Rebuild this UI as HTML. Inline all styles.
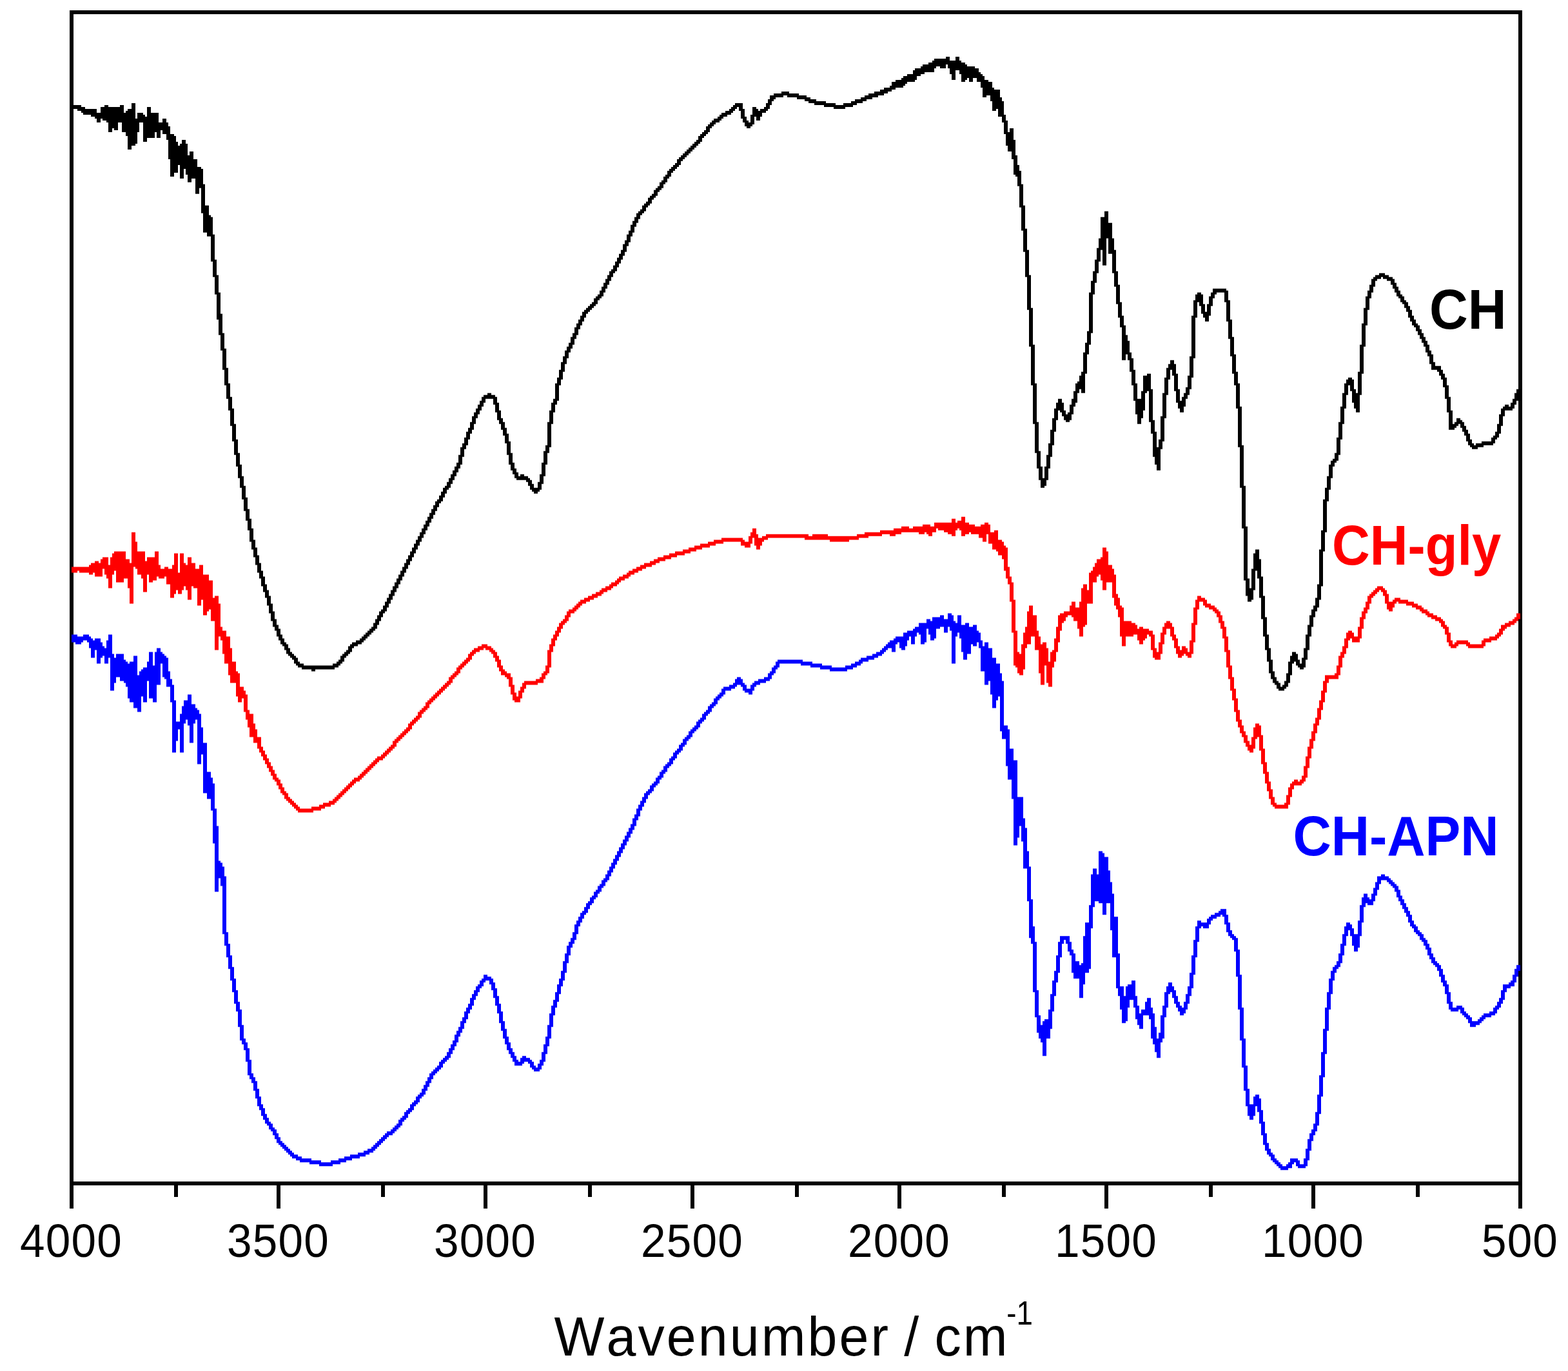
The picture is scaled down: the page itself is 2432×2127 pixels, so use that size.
<!DOCTYPE html>
<html lang="en"><head><meta charset="utf-8"><title>FTIR spectra</title>
<style>
html,body{margin:0;padding:0;background:#fff}
body{width:2432px;height:2127px;overflow:hidden}
svg{display:block}
text{font-family:"Liberation Sans",sans-serif}
.tk{font-size:73px;text-anchor:middle;fill:#000;letter-spacing:1.2px;font-kerning:none}
.ti{font-size:86px;fill:#000;letter-spacing:3.2px;word-spacing:-5px;font-kerning:none}
.lb{font-size:87px;font-weight:bold}
</style></head>
<body>
<svg width="2432" height="2127" viewBox="0 0 2432 2127">
<rect width="2432" height="2127" fill="#fff"/>
<g fill="#000" shape-rendering="crispEdges">
<rect x="108" y="16" width="2253" height="6"/>
<rect x="108" y="1833" width="2253" height="6"/>
<rect x="108" y="16" width="6" height="1823"/>
<rect x="2355" y="16" width="6" height="1823"/>
<rect x="108" y="1839" width="6" height="36"/>
<rect x="270" y="1839" width="6" height="18"/>
<rect x="429" y="1839" width="6" height="36"/>
<rect x="591" y="1839" width="6" height="18"/>
<rect x="750" y="1839" width="6" height="36"/>
<rect x="912" y="1839" width="6" height="18"/>
<rect x="1071" y="1839" width="6" height="36"/>
<rect x="1233" y="1839" width="6" height="18"/>
<rect x="1392" y="1839" width="6" height="36"/>
<rect x="1554" y="1839" width="6" height="18"/>
<rect x="1713" y="1839" width="6" height="36"/>
<rect x="1875" y="1839" width="6" height="18"/>
<rect x="2034" y="1839" width="6" height="36"/>
<rect x="2196" y="1839" width="6" height="18"/>
<rect x="2355" y="1839" width="6" height="36"/>
</g>
<path id="black" fill="#000000" transform="translate(0,1) scale(1,0.99955)" d="M111 162h3v9h-3zM114 162h6v6h-6zM120 162h6v9h-6zM126 165h3v9h-3zM129 165h3v12h-3zM132 168h9v9h-9zM141 168h6v12h-6zM147 168h3v15h-3zM150 174h6v15h-6zM156 165h3v18h-3zM159 165h3v21h-3zM162 162h3v24h-3zM165 162h3v27h-3zM168 165h6v39h-6zM174 165h3v33h-3zM177 165h6v36h-6zM183 165h3v24h-3zM186 162h3v27h-3zM189 162h3v42h-3zM192 174h3v30h-3zM195 171h3v39h-3zM198 168h6v63h-6zM204 159h6v66h-6zM210 183h3v39h-3zM213 174h3v30h-3zM216 174h6v15h-6zM222 177h3v42h-3zM225 180h3v39h-3zM228 165h6v48h-6zM234 174h6v39h-6zM240 174h3v30h-3zM243 174h3v39h-3zM246 189h3v24h-3zM249 189h3v12h-3zM252 183h6v24h-6zM258 189h3v27h-3zM261 195h3v51h-3zM264 207h6v66h-6zM270 210h3v57h-3zM273 219h3v48h-3zM276 225h3v30h-3zM279 222h3v54h-3zM282 216h3v60h-3zM285 216h3v45h-3zM288 222h3v48h-3zM291 240h3v42h-3zM294 234h3v48h-3zM297 234h3v42h-3zM300 246h3v30h-3zM303 246h3v54h-3zM306 258h3v42h-3zM309 258h3v33h-3zM312 261h3v69h-3zM315 285h3v75h-3zM318 318h3v42h-3zM321 318h3v48h-3zM324 333h3v33h-3zM327 336h3v69h-3zM330 363h3v66h-3zM333 402h3v54h-3zM336 426h3v69h-3zM339 453h3v66h-3zM342 486h3v57h-3zM345 516h3v57h-3zM348 540h3v57h-3zM351 570h3v48h-3zM354 594h3v42h-3zM357 615h3v45h-3zM360 633h3v51h-3zM363 657h3v48h-3zM366 681h3v42h-3zM369 702h3v39h-3zM372 720h3v36h-3zM375 738h3v36h-3zM378 753h3v39h-3zM381 771h3v36h-3zM384 789h3v33h-3zM387 804h3v36h-3zM390 819h3v33h-3zM393 837h3v27h-3zM396 849h3v27h-3zM399 861h3v27h-3zM402 873h3v24h-3zM405 885h3v24h-3zM408 894h3v24h-3zM411 906h3v21h-3zM414 915h3v24h-3zM417 924h3v27h-3zM420 936h3v27h-3zM423 948h3v24h-3zM426 960h3v18h-3zM429 969h3v18h-3zM432 975h3v18h-3zM435 984h3v15h-3zM438 990h3v12h-3zM441 996h3v12h-3zM444 999h3v15h-3zM447 1005h3v12h-3zM450 1011h3v9h-3zM453 1014h3v9h-3zM456 1017h3v12h-3zM459 1020h3v12h-3zM462 1026h3v9h-3zM465 1029h3v6h-3zM468 1029h3v9h-3zM471 1032h12v6h-12zM483 1032h6v9h-6zM489 1032h27v6h-27zM516 1029h3v9h-3zM519 1029h3v6h-3zM522 1026h3v9h-3zM525 1023h3v9h-3zM528 1017h3v12h-3zM531 1014h3v12h-3zM534 1011h3v9h-3zM537 1008h3v9h-3zM540 1002h3v12h-3zM543 999h3v12h-3zM546 996h3v9h-3zM549 996h3v6h-3zM552 993h3v9h-3zM555 993h3v6h-3zM558 990h3v9h-3zM561 987h3v9h-3zM564 984h3v9h-3zM567 981h3v9h-3zM570 978h3v9h-3zM573 975h3v9h-3zM576 972h3v9h-3zM579 966h3v12h-3zM582 960h3v15h-3zM585 954h3v15h-3zM588 948h3v15h-3zM591 945h3v12h-3zM594 939h3v12h-3zM597 933h3v15h-3zM600 927h3v15h-3zM603 921h3v15h-3zM606 915h3v15h-3zM609 909h3v15h-3zM612 903h3v15h-3zM615 897h3v15h-3zM618 891h3v15h-3zM621 885h3v15h-3zM624 879h3v15h-3zM627 873h3v15h-3zM630 867h3v15h-3zM633 861h3v15h-3zM636 855h3v15h-3zM639 849h3v15h-3zM642 843h3v15h-3zM645 837h3v15h-3zM648 831h3v15h-3zM651 825h3v15h-3zM654 819h3v15h-3zM657 813h3v15h-3zM660 807h3v15h-3zM663 801h3v15h-3zM666 795h3v15h-3zM669 789h3v15h-3zM672 783h3v15h-3zM675 777h3v15h-3zM678 774h3v12h-3zM681 768h3v12h-3zM684 762h3v15h-3zM687 756h3v15h-3zM690 753h3v12h-3zM693 747h3v12h-3zM696 741h3v15h-3zM699 735h3v15h-3zM702 729h3v15h-3zM705 723h3v15h-3zM708 717h3v15h-3zM711 705h3v21h-3zM714 693h3v27h-3zM717 687h3v21h-3zM720 678h3v18h-3zM723 669h3v21h-3zM726 663h3v18h-3zM729 654h3v18h-3zM732 645h3v21h-3zM735 639h3v18h-3zM738 633h3v15h-3zM741 627h3v15h-3zM744 621h3v15h-3zM747 615h3v15h-3zM750 612h3v12h-3zM753 612h3v6h-3zM756 609h6v9h-6zM762 612h3v6h-3zM765 612h3v15h-3zM768 615h3v24h-3zM771 624h3v27h-3zM774 636h3v21h-3zM777 648h3v18h-3zM780 654h3v21h-3zM783 663h3v24h-3zM786 672h3v33h-3zM789 684h3v36h-3zM792 702h3v27h-3zM795 717h3v18h-3zM798 726h3v15h-3zM801 732h3v12h-3zM804 738h3v6h-3zM807 735h6v9h-6zM813 738h3v6h-3zM816 738h3v9h-3zM819 741h3v12h-3zM822 744h3v15h-3zM825 750h3v12h-3zM828 756h6v9h-6zM834 747h3v15h-3zM837 735h3v24h-3zM840 717h3v33h-3zM843 699h3v39h-3zM846 690h3v30h-3zM849 654h3v48h-3zM852 636h3v57h-3zM855 624h3v33h-3zM858 618h3v21h-3zM861 594h3v33h-3zM864 585h3v36h-3zM867 573h3v24h-3zM870 561h3v27h-3zM873 552h3v24h-3zM876 543h3v21h-3zM879 537h3v18h-3zM882 531h3v15h-3zM885 522h3v18h-3zM888 516h3v18h-3zM891 507h3v18h-3zM894 501h3v18h-3zM897 495h3v15h-3zM900 489h3v15h-3zM903 483h3v15h-3zM906 480h3v12h-3zM909 477h3v9h-3zM912 474h3v9h-3zM915 471h3v9h-3zM918 468h3v9h-3zM921 462h3v12h-3zM924 459h3v12h-3zM927 456h3v9h-3zM930 450h3v12h-3zM933 444h3v15h-3zM936 438h3v15h-3zM939 432h3v15h-3zM942 426h3v15h-3zM945 420h3v15h-3zM948 417h3v12h-3zM951 411h3v12h-3zM954 405h3v15h-3zM957 399h3v15h-3zM960 393h3v15h-3zM963 387h3v15h-3zM966 378h3v18h-3zM969 372h3v18h-3zM972 363h3v18h-3zM975 357h3v18h-3zM978 348h3v18h-3zM981 342h3v18h-3zM984 336h3v15h-3zM987 330h3v15h-3zM990 327h3v12h-3zM993 324h3v9h-3zM996 318h3v12h-3zM999 315h3v12h-3zM1002 312h3v9h-3zM1005 306h3v12h-3zM1008 303h3v12h-3zM1011 300h3v9h-3zM1014 294h3v12h-3zM1017 291h3v12h-3zM1020 288h3v9h-3zM1023 282h3v12h-3zM1026 279h3v12h-3zM1029 273h3v12h-3zM1032 270h3v12h-3zM1035 264h3v12h-3zM1038 261h3v12h-3zM1041 258h3v9h-3zM1044 255h3v9h-3zM1047 252h3v9h-3zM1050 246h3v12h-3zM1053 243h3v12h-3zM1056 240h3v9h-3zM1059 237h3v9h-3zM1062 234h3v9h-3zM1065 231h3v9h-3zM1068 228h3v9h-3zM1071 225h3v9h-3zM1074 222h3v9h-3zM1077 219h3v9h-3zM1080 216h3v9h-3zM1083 210h3v12h-3zM1086 207h3v12h-3zM1089 204h3v9h-3zM1092 201h3v9h-3zM1095 195h3v12h-3zM1098 192h3v12h-3zM1101 189h3v9h-3zM1104 186h3v9h-3zM1107 183h3v9h-3zM1110 183h3v6h-3zM1113 180h3v9h-3zM1116 177h3v9h-3zM1119 174h3v9h-3zM1122 174h3v6h-3zM1125 171h3v9h-3zM1128 171h3v6h-3zM1131 168h3v9h-3zM1134 165h3v9h-3zM1137 162h3v9h-3zM1140 159h3v9h-3zM1143 159h3v6h-3zM1146 159h3v12h-3zM1149 159h3v24h-3zM1152 168h3v21h-3zM1155 180h3v15h-3zM1158 186h3v12h-3zM1161 189h3v9h-3zM1164 177h3v18h-3zM1167 165h3v27h-3zM1170 165h3v15h-3zM1173 168h3v18h-3zM1176 171h3v15h-3zM1179 168h3v12h-3zM1182 168h3v6h-3zM1185 165h3v9h-3zM1188 159h3v12h-3zM1191 153h3v15h-3zM1194 147h3v15h-3zM1197 147h3v9h-3zM1200 144h3v9h-3zM1203 144h9v6h-9zM1212 141h3v9h-3zM1215 141h6v6h-6zM1221 141h3v9h-3zM1224 144h12v6h-12zM1236 144h3v9h-3zM1239 147h9v6h-9zM1248 147h3v9h-3zM1251 150h3v6h-3zM1254 150h3v9h-3zM1257 153h6v6h-6zM1263 153h3v9h-3zM1266 156h12v6h-12zM1278 156h3v9h-3zM1281 159h12v6h-12zM1293 159h3v9h-3zM1296 162h12v6h-12zM1308 159h3v9h-3zM1311 159h9v6h-9zM1320 156h3v9h-3zM1323 156h3v6h-3zM1326 153h3v9h-3zM1329 153h6v6h-6zM1335 150h3v9h-3zM1338 150h3v6h-3zM1341 147h3v9h-3zM1344 147h3v6h-3zM1347 144h6v9h-6zM1353 144h3v6h-3zM1356 141h6v9h-6zM1362 141h3v6h-3zM1365 138h6v9h-6zM1371 135h6v9h-6zM1377 135h3v6h-3zM1380 132h3v9h-3zM1383 126h6v12h-6zM1389 123h9v12h-9zM1398 120h3v15h-3zM1401 117h3v15h-3zM1404 117h3v12h-3zM1407 114h9v12h-9zM1416 108h3v18h-3zM1419 105h3v18h-3zM1422 105h6v12h-6zM1428 102h3v12h-3zM1431 99h3v15h-3zM1434 99h6v12h-6zM1440 96h6v15h-6zM1446 93h3v18h-3zM1449 90h3v15h-3zM1452 90h6v12h-6zM1458 90h9v15h-9zM1467 87h3v12h-3zM1470 87h3v18h-3zM1473 93h3v21h-3zM1476 93h6v30h-6zM1482 87h6v21h-6zM1488 93h3v21h-3zM1491 96h6v30h-6zM1497 99h3v24h-3zM1500 102h3v18h-3zM1503 102h6v24h-6zM1509 102h3v18h-3zM1512 105h3v15h-3zM1515 105h3v21h-3zM1518 111h3v15h-3zM1521 114h3v21h-3zM1524 117h3v33h-3zM1527 123h3v27h-3zM1530 123h3v24h-3zM1533 126h3v21h-3zM1536 126h3v30h-3zM1539 135h3v36h-3zM1542 138h3v33h-3zM1545 138h3v30h-3zM1548 138h3v42h-3zM1551 150h3v30h-3zM1554 156h3v33h-3zM1557 177h3v30h-3zM1560 186h3v39h-3zM1563 204h3v30h-3zM1566 198h3v36h-3zM1569 198h3v48h-3zM1572 216h3v54h-3zM1575 240h3v33h-3zM1578 255h3v33h-3zM1581 264h3v57h-3zM1584 285h3v72h-3zM1587 318h3v72h-3zM1590 354h3v75h-3zM1593 387h3v93h-3zM1596 426h3v111h-3zM1599 477h3v120h-3zM1602 534h3v123h-3zM1605 594h3v108h-3zM1608 654h3v72h-3zM1611 699h3v45h-3zM1614 723h3v33h-3zM1617 741h3v15h-3zM1620 723h3v30h-3zM1623 705h3v39h-3zM1626 687h3v39h-3zM1629 666h3v42h-3zM1632 648h3v42h-3zM1635 633h3v36h-3zM1638 624h3v27h-3zM1641 618h3v18h-3zM1644 618h3v21h-3zM1647 624h3v21h-3zM1650 636h3v15h-3zM1653 642h3v12h-3zM1656 639h3v15h-3zM1659 627h3v24h-3zM1662 618h3v24h-3zM1665 606h3v24h-3zM1668 594h3v30h-3zM1671 591h3v18h-3zM1674 582h3v21h-3zM1677 576h3v33h-3zM1680 546h3v63h-3zM1683 531h3v48h-3zM1686 513h3v36h-3zM1689 453h3v81h-3zM1692 435h3v81h-3zM1695 420h3v36h-3zM1698 402h3v36h-3zM1701 384h3v39h-3zM1704 369h3v36h-3zM1707 336h3v51h-3zM1710 336h3v75h-3zM1713 327h3v84h-3zM1716 327h3v42h-3zM1719 345h6v48h-6zM1725 369h3v54h-3zM1728 387h3v57h-3zM1731 420h3v51h-3zM1734 441h3v51h-3zM1737 468h3v39h-3zM1740 489h3v69h-3zM1743 504h3v54h-3zM1746 519h3v30h-3zM1749 528h3v30h-3zM1752 546h3v30h-3zM1755 555h3v42h-3zM1758 573h3v48h-3zM1761 594h3v48h-3zM1764 618h6v39h-6zM1770 606h3v42h-3zM1773 582h3v54h-3zM1776 582h3v27h-3zM1779 579h3v27h-3zM1782 579h3v75h-3zM1785 603h3v69h-3zM1788 651h3v57h-3zM1791 669h3v51h-3zM1794 693h3v36h-3zM1797 681h3v48h-3zM1800 645h3v51h-3zM1803 609h3v75h-3zM1806 585h3v63h-3zM1809 570h3v42h-3zM1812 564h3v24h-3zM1815 558h3v15h-3zM1818 558h3v24h-3zM1821 564h3v42h-3zM1824 579h3v45h-3zM1827 603h3v30h-3zM1830 621h3v18h-3zM1833 615h3v24h-3zM1836 609h3v21h-3zM1839 600h3v18h-3zM1842 582h3v30h-3zM1845 552h3v51h-3zM1848 489h3v96h-3zM1851 465h3v90h-3zM1854 456h3v36h-3zM1857 453h3v15h-3zM1860 453h3v21h-3zM1863 456h3v30h-3zM1866 471h3v21h-3zM1869 483h3v15h-3zM1872 471h3v27h-3zM1875 459h3v30h-3zM1878 453h3v21h-3zM1881 447h3v15h-3zM1884 447h3v9h-3zM1887 447h12v6h-12zM1899 447h3v21h-3zM1902 450h3v48h-3zM1905 465h3v60h-3zM1908 495h3v57h-3zM1911 522h3v57h-3zM1914 549h3v48h-3zM1917 576h3v57h-3zM1920 594h3v99h-3zM1923 630h3v126h-3zM1926 690h3v129h-3zM1929 753h3v147h-3zM1932 816h3v108h-3zM1935 897h3v36h-3zM1938 912h3v21h-3zM1941 882h3v48h-3zM1944 858h3v57h-3zM1947 852h3v33h-3zM1950 852h3v45h-3zM1953 867h3v60h-3zM1956 894h3v66h-3zM1959 924h3v63h-3zM1962 957h3v51h-3zM1965 984h3v42h-3zM1968 1005h3v39h-3zM1971 1023h3v30h-3zM1974 1041h3v18h-3zM1977 1050h3v12h-3zM1980 1056h3v12h-3zM1983 1059h3v12h-3zM1986 1065h3v6h-3zM1989 1062h3v9h-3zM1992 1056h3v12h-3zM1995 1044h3v21h-3zM1998 1026h3v33h-3zM2001 1017h3v30h-3zM2004 1011h3v18h-3zM2007 1011h3v15h-3zM2010 1014h3v18h-3zM2013 1023h3v12h-3zM2016 1029h3v9h-3zM2019 1020h3v18h-3zM2022 1005h3v30h-3zM2025 984h3v39h-3zM2028 969h3v39h-3zM2031 954h3v33h-3zM2034 945h3v27h-3zM2037 939h3v18h-3zM2040 927h3v21h-3zM2043 906h3v36h-3zM2046 852h3v78h-3zM2049 822h3v87h-3zM2052 774h3v81h-3zM2055 756h3v69h-3zM2058 738h3v39h-3zM2061 720h3v39h-3zM2064 714h3v27h-3zM2067 711h3v12h-3zM2070 702h3v15h-3zM2073 678h3v36h-3zM2076 654h3v51h-3zM2079 630h3v51h-3zM2082 609h3v48h-3zM2085 594h3v39h-3zM2088 588h3v24h-3zM2091 585h3v12h-3zM2094 585h3v21h-3zM2097 588h3v36h-3zM2100 603h3v30h-3zM2103 609h3v30h-3zM2106 576h3v63h-3zM2109 534h3v78h-3zM2112 501h3v78h-3zM2115 477h3v60h-3zM2118 459h3v45h-3zM2121 450h3v30h-3zM2124 441h3v21h-3zM2127 432h3v21h-3zM2130 429h3v15h-3zM2133 426h3v9h-3zM2136 426h3v6h-3zM2139 423h3v9h-3zM2142 423h3v6h-3zM2145 423h3v9h-3zM2148 426h3v6h-3zM2151 426h3v9h-3zM2154 429h3v6h-3zM2157 429h3v12h-3zM2160 432h3v15h-3zM2163 438h3v15h-3zM2166 444h3v15h-3zM2169 450h3v12h-3zM2172 456h3v12h-3zM2175 459h3v12h-3zM2178 465h3v12h-3zM2181 468h3v15h-3zM2184 474h3v18h-3zM2187 480h3v18h-3zM2190 489h3v15h-3zM2193 495h3v12h-3zM2196 501h3v12h-3zM2199 504h3v15h-3zM2202 510h3v15h-3zM2205 516h3v15h-3zM2208 522h3v15h-3zM2211 528h3v18h-3zM2214 534h3v18h-3zM2217 543h3v21h-3zM2220 549h3v24h-3zM2223 561h3v12h-3zM2226 567h3v6h-3zM2229 567h3v9h-3zM2232 567h3v15h-3zM2235 573h3v15h-3zM2238 579h3v21h-3zM2241 585h3v33h-3zM2244 597h3v42h-3zM2247 615h3v51h-3zM2250 636h3v30h-3zM2253 657h3v9h-3zM2256 654h3v9h-3zM2259 648h3v12h-3zM2262 648h3v9h-3zM2265 651h3v12h-3zM2268 654h3v15h-3zM2271 660h3v15h-3zM2274 666h3v18h-3zM2277 672h3v18h-3zM2280 681h3v12h-3zM2283 687h3v9h-3zM2286 690h3v6h-3zM2289 687h3v9h-3zM2292 687h6v6h-6zM2298 684h3v9h-3zM2301 684h12v6h-12zM2313 678h3v12h-3zM2316 675h3v12h-3zM2319 669h3v12h-3zM2322 657h3v21h-3zM2325 642h3v30h-3zM2328 633h3v27h-3zM2331 630h3v15h-3zM2334 627h6v9h-6zM2340 630h3v6h-3zM2343 624h3v12h-3zM2346 618h3v15h-3zM2349 609h3v18h-3zM2352 603h3v18h-3zM2355 603h3v9h-3z"/>
<path id="red" fill="#ff0000" transform="translate(0,1) scale(1,0.99955)" d="M111 879h9v9h-9zM120 879h3v6h-3zM123 879h15v9h-15zM138 876h3v15h-3zM141 873h3v18h-3zM144 873h3v15h-3zM147 870h6v24h-6zM153 873h3v21h-3zM156 867h3v27h-3zM159 864h3v18h-3zM162 864h3v27h-3zM165 864h3v33h-3zM168 876h3v36h-3zM171 864h3v48h-3zM174 858h3v33h-3zM177 855h3v30h-3zM180 855h12v48h-12zM192 855h3v42h-3zM195 867h3v30h-3zM198 867h3v45h-3zM201 873h3v63h-3zM204 825h3v111h-3zM207 825h3v54h-3zM210 840h3v42h-3zM213 855h6v36h-6zM219 855h3v42h-3zM222 855h3v63h-3zM225 870h3v48h-3zM228 864h3v27h-3zM231 864h6v39h-6zM237 864h3v36h-3zM240 855h3v45h-3zM243 855h3v39h-3zM246 876h3v21h-3zM249 882h6v15h-6zM255 879h3v15h-3zM258 879h3v27h-3zM261 882h3v24h-3zM264 882h3v45h-3zM267 876h3v51h-3zM270 858h3v63h-3zM273 858h3v57h-3zM276 888h3v33h-3zM279 858h3v63h-3zM282 858h3v57h-3zM285 873h3v36h-3zM288 876h3v39h-3zM291 864h6v66h-6zM297 873h3v36h-3zM300 873h3v39h-3zM303 882h3v30h-3zM306 882h3v57h-3zM309 876h3v63h-3zM312 876h3v54h-3zM315 891h6v63h-6zM321 891h3v57h-3zM324 900h3v45h-3zM327 900h3v63h-3zM330 927h3v36h-3zM333 924h6v84h-6zM339 936h3v51h-3zM342 972h3v21h-3zM345 978h3v36h-3zM348 978h3v51h-3zM351 987h3v42h-3zM354 987h3v60h-3zM357 1005h3v54h-3zM360 1026h6v33h-6zM366 1041h3v39h-3zM369 1044h3v45h-3zM372 1065h3v24h-3zM375 1065h3v18h-3zM378 1071h3v33h-3zM381 1077h3v39h-3zM384 1101h3v27h-3zM387 1107h6v36h-6zM393 1122h3v30h-3zM396 1131h3v21h-3zM399 1143h3v18h-3zM402 1143h3v24h-3zM405 1158h3v15h-3zM408 1164h3v15h-3zM411 1170h3v15h-3zM414 1176h3v15h-3zM417 1182h3v15h-3zM420 1188h3v15h-3zM423 1194h3v15h-3zM426 1200h3v12h-3zM429 1206h3v12h-3zM432 1209h3v15h-3zM435 1215h3v15h-3zM438 1221h3v12h-3zM441 1227h3v12h-3zM444 1230h3v12h-3zM447 1236h3v9h-3zM450 1239h3v9h-3zM453 1242h3v9h-3zM456 1245h3v9h-3zM459 1248h3v9h-3zM462 1251h3v9h-3zM465 1254h18v6h-18zM483 1251h3v9h-3zM486 1251h9v6h-9zM495 1248h3v9h-3zM498 1248h3v6h-3zM501 1245h3v9h-3zM504 1245h6v6h-6zM510 1242h3v9h-3zM513 1242h3v6h-3zM516 1239h3v9h-3zM519 1236h3v9h-3zM522 1233h3v9h-3zM525 1230h3v9h-3zM528 1227h3v9h-3zM531 1224h3v9h-3zM534 1221h3v9h-3zM537 1218h3v9h-3zM540 1215h3v9h-3zM543 1212h3v9h-3zM546 1209h3v9h-3zM549 1206h3v9h-3zM552 1206h3v6h-3zM555 1203h3v9h-3zM558 1200h3v9h-3zM561 1197h3v9h-3zM564 1194h3v9h-3zM567 1191h3v9h-3zM570 1188h3v9h-3zM573 1185h3v9h-3zM576 1182h3v9h-3zM579 1179h3v9h-3zM582 1176h3v9h-3zM585 1173h3v9h-3zM588 1173h3v6h-3zM591 1170h3v9h-3zM594 1167h3v9h-3zM597 1164h3v9h-3zM600 1161h3v9h-3zM603 1158h3v9h-3zM606 1155h3v9h-3zM609 1149h3v12h-3zM612 1146h3v12h-3zM615 1143h3v9h-3zM618 1140h3v9h-3zM621 1137h3v9h-3zM624 1134h3v9h-3zM627 1131h3v9h-3zM630 1128h3v9h-3zM633 1122h3v12h-3zM636 1119h3v12h-3zM639 1116h3v9h-3zM642 1113h3v9h-3zM645 1110h3v9h-3zM648 1104h3v12h-3zM651 1101h3v12h-3zM654 1098h3v9h-3zM657 1095h3v9h-3zM660 1089h3v12h-3zM663 1086h3v12h-3zM666 1083h3v9h-3zM669 1080h3v9h-3zM672 1077h3v9h-3zM675 1074h3v9h-3zM678 1071h3v9h-3zM681 1068h3v9h-3zM684 1065h3v9h-3zM687 1062h3v9h-3zM690 1059h3v9h-3zM693 1056h3v9h-3zM696 1050h3v12h-3zM699 1047h3v12h-3zM702 1044h3v9h-3zM705 1041h3v9h-3zM708 1035h3v12h-3zM711 1032h3v12h-3zM714 1029h3v9h-3zM717 1026h3v9h-3zM720 1023h3v9h-3zM723 1020h3v9h-3zM726 1014h3v12h-3zM729 1011h3v12h-3zM732 1008h3v9h-3zM735 1005h3v9h-3zM738 1005h3v6h-3zM741 1002h3v9h-3zM744 1002h3v6h-3zM747 999h3v9h-3zM750 999h3v6h-3zM753 999h3v9h-3zM756 1002h3v6h-3zM759 1002h3v9h-3zM762 1005h3v9h-3zM765 1008h3v12h-3zM768 1011h3v15h-3zM771 1017h3v18h-3zM774 1023h3v18h-3zM777 1032h3v15h-3zM780 1038h3v9h-3zM783 1041h3v9h-3zM786 1044h3v9h-3zM789 1044h3v21h-3zM792 1050h3v27h-3zM795 1062h3v24h-3zM798 1074h3v15h-3zM801 1080h3v9h-3zM804 1071h3v18h-3zM807 1065h3v18h-3zM810 1059h3v15h-3zM813 1056h3v12h-3zM816 1056h15v6h-15zM831 1053h3v9h-3zM834 1053h3v6h-3zM837 1050h3v9h-3zM840 1044h3v15h-3zM843 1041h3v12h-3zM846 1032h3v15h-3zM849 1008h3v36h-3zM852 999h3v36h-3zM855 990h3v21h-3zM858 984h3v18h-3zM861 978h3v15h-3zM864 972h3v15h-3zM867 966h3v15h-3zM870 963h3v12h-3zM873 960h3v9h-3zM876 954h3v12h-3zM879 948h3v15h-3zM882 945h3v12h-3zM885 945h3v6h-3zM888 942h3v9h-3zM891 939h3v9h-3zM894 936h3v9h-3zM897 933h3v9h-3zM900 930h3v9h-3zM903 930h3v6h-3zM906 927h3v9h-3zM909 927h3v6h-3zM912 924h3v9h-3zM915 924h3v6h-3zM918 921h3v9h-3zM921 921h3v6h-3zM924 918h3v9h-3zM927 918h3v6h-3zM930 915h3v9h-3zM933 912h3v9h-3zM936 912h3v6h-3zM939 909h3v9h-3zM942 909h3v6h-3zM945 906h3v9h-3zM948 903h3v9h-3zM951 903h3v6h-3zM954 900h3v9h-3zM957 897h3v9h-3zM960 894h3v9h-3zM963 894h3v6h-3zM966 891h3v9h-3zM969 891h3v6h-3zM972 888h3v9h-3zM975 885h3v9h-3zM978 885h3v6h-3zM981 882h3v9h-3zM984 882h3v6h-3zM987 879h3v9h-3zM990 879h3v6h-3zM993 876h3v9h-3zM996 876h3v6h-3zM999 873h3v9h-3zM1002 873h6v6h-6zM1008 870h3v9h-3zM1011 870h3v6h-3zM1014 867h3v9h-3zM1017 867h3v6h-3zM1020 864h3v9h-3zM1023 864h6v6h-6zM1029 861h3v9h-3zM1032 861h6v6h-6zM1038 858h3v9h-3zM1041 858h6v6h-6zM1047 855h3v9h-3zM1050 855h9v6h-9zM1059 852h3v9h-3zM1062 852h6v6h-6zM1068 849h3v9h-3zM1071 849h6v6h-6zM1077 846h3v9h-3zM1080 846h6v6h-6zM1086 843h3v9h-3zM1089 843h9v6h-9zM1098 840h3v9h-3zM1101 840h6v6h-6zM1107 837h3v9h-3zM1110 837h9v6h-9zM1119 834h3v9h-3zM1122 834h27v6h-27zM1149 834h3v12h-3zM1152 837h3v9h-3zM1155 840h6v9h-6zM1161 831h3v18h-3zM1164 825h3v18h-3zM1167 819h3v15h-3zM1170 819h3v27h-3zM1173 828h3v24h-3zM1176 834h3v18h-3zM1179 834h3v12h-3zM1182 831h3v9h-3zM1185 831h3v6h-3zM1188 828h3v9h-3zM1191 828h57v6h-57zM1248 828h6v9h-6zM1254 831h6v6h-6zM1260 828h24v9h-24zM1284 831h3v6h-3zM1287 831h30v9h-30zM1317 831h12v6h-12zM1329 828h3v9h-3zM1332 828h9v6h-9zM1341 825h6v9h-6zM1347 825h18v6h-18zM1365 822h3v9h-3zM1368 822h12v6h-12zM1380 822h6v9h-6zM1386 819h3v12h-3zM1389 819h9v9h-9zM1398 816h12v9h-12zM1410 819h6v6h-6zM1416 816h9v9h-9zM1425 816h6v12h-6zM1431 813h3v15h-3zM1434 813h3v12h-3zM1437 813h3v15h-3zM1440 813h3v18h-3zM1443 816h3v15h-3zM1446 816h3v9h-3zM1449 810h3v15h-3zM1452 810h3v9h-3zM1455 810h9v12h-9zM1464 810h6v15h-6zM1470 810h6v18h-6zM1476 804h6v27h-6zM1482 810h3v12h-3zM1485 807h3v12h-3zM1488 807h3v15h-3zM1491 801h6v30h-6zM1497 810h6v18h-6zM1503 813h3v12h-3zM1506 813h6v15h-6zM1512 816h6v12h-6zM1518 816h3v18h-3zM1521 813h3v21h-3zM1524 813h3v27h-3zM1527 810h3v30h-3zM1530 810h3v18h-3zM1533 813h3v30h-3zM1536 825h3v18h-3zM1539 825h3v27h-3zM1542 822h3v30h-3zM1545 822h3v33h-3zM1548 837h6v24h-6zM1554 840h3v27h-3zM1557 846h3v39h-3zM1560 849h3v48h-3zM1563 879h3v27h-3zM1566 894h3v39h-3zM1569 903h3v78h-3zM1572 930h3v102h-3zM1575 978h3v57h-3zM1578 1011h3v33h-3zM1581 1014h3v33h-3zM1584 999h3v48h-3zM1587 981h3v57h-3zM1590 972h3v33h-3zM1593 948h3v51h-3zM1596 939h3v60h-3zM1599 939h3v48h-3zM1602 954h3v33h-3zM1605 954h3v54h-3zM1608 978h3v30h-3zM1611 987h3v57h-3zM1614 999h3v63h-3zM1617 996h3v66h-3zM1620 996h3v36h-3zM1623 1005h3v54h-3zM1626 1026h3v39h-3zM1629 1011h3v54h-3zM1632 1008h3v27h-3zM1635 990h3v36h-3zM1638 972h3v39h-3zM1641 954h3v42h-3zM1644 951h3v27h-3zM1647 951h3v15h-3zM1650 948h3v15h-3zM1653 948h3v9h-3zM1656 948h3v6h-3zM1659 939h3v15h-3zM1662 933h3v24h-3zM1665 933h3v30h-3zM1668 942h3v21h-3zM1671 942h3v33h-3zM1674 933h3v54h-3zM1677 912h3v75h-3zM1680 906h3v66h-3zM1683 906h3v63h-3zM1686 915h3v21h-3zM1689 888h3v48h-3zM1692 885h3v51h-3zM1695 879h3v24h-3zM1698 873h3v30h-3zM1701 867h3v27h-3zM1704 867h3v24h-3zM1707 864h3v36h-3zM1710 849h6v66h-6zM1716 855h3v48h-3zM1719 876h6v27h-6zM1725 882h3v45h-3zM1728 891h3v48h-3zM1731 921h3v24h-3zM1734 927h3v30h-3zM1737 939h3v48h-3zM1740 942h3v60h-3zM1743 963h3v39h-3zM1746 963h9v24h-9zM1755 966h3v21h-3zM1758 966h3v18h-3zM1761 969h3v15h-3zM1764 975h3v18h-3zM1767 972h6v27h-6zM1773 975h3v18h-3zM1776 975h3v15h-3zM1779 975h3v9h-3zM1782 978h3v9h-3zM1785 978h3v30h-3zM1788 984h3v36h-3zM1791 1005h3v18h-3zM1794 1011h3v12h-3zM1797 996h3v27h-3zM1800 981h3v33h-3zM1803 972h3v27h-3zM1806 966h3v18h-3zM1809 963h6v12h-6zM1815 966h3v21h-3zM1818 972h3v21h-3zM1821 984h3v21h-3zM1824 990h3v24h-3zM1827 1002h3v18h-3zM1830 1008h3v12h-3zM1833 1002h3v15h-3zM1836 1002h3v12h-3zM1839 1005h3v12h-3zM1842 1011h3v9h-3zM1845 993h3v27h-3zM1848 966h3v48h-3zM1851 942h3v54h-3zM1854 930h3v39h-3zM1857 924h3v21h-3zM1860 924h3v9h-3zM1863 927h3v6h-3zM1866 927h3v12h-3zM1869 930h3v12h-3zM1872 936h3v6h-3zM1875 936h3v9h-3zM1878 939h3v6h-3zM1881 939h3v9h-3zM1884 942h3v9h-3zM1887 945h3v12h-3zM1890 948h3v18h-3zM1893 954h3v21h-3zM1896 963h3v27h-3zM1899 972h3v39h-3zM1902 987h3v48h-3zM1905 1008h3v45h-3zM1908 1032h3v39h-3zM1911 1050h3v36h-3zM1914 1068h3v36h-3zM1917 1083h3v36h-3zM1920 1101h3v27h-3zM1923 1116h3v21h-3zM1926 1125h3v18h-3zM1929 1134h3v18h-3zM1932 1140h3v18h-3zM1935 1149h3v15h-3zM1938 1155h3v12h-3zM1941 1143h3v24h-3zM1944 1128h3v33h-3zM1947 1122h3v24h-3zM1950 1122h3v21h-3zM1953 1125h3v39h-3zM1956 1140h3v45h-3zM1959 1161h3v39h-3zM1962 1182h3v33h-3zM1965 1197h3v30h-3zM1968 1212h3v27h-3zM1971 1224h3v24h-3zM1974 1236h3v15h-3zM1977 1245h3v9h-3zM1980 1248h12v6h-12zM1992 1245h3v9h-3zM1995 1233h3v21h-3zM1998 1221h3v27h-3zM2001 1215h3v21h-3zM2004 1212h3v12h-3zM2007 1209h6v9h-6zM2013 1212h3v6h-3zM2016 1209h3v9h-3zM2019 1203h3v12h-3zM2022 1188h3v24h-3zM2025 1173h3v33h-3zM2028 1158h3v33h-3zM2031 1146h3v30h-3zM2034 1134h3v27h-3zM2037 1122h3v27h-3zM2040 1113h3v24h-3zM2043 1098h3v27h-3zM2046 1086h3v30h-3zM2049 1071h3v30h-3zM2052 1056h3v33h-3zM2055 1047h3v27h-3zM2058 1047h3v12h-3zM2061 1047h9v6h-9zM2070 1044h3v9h-3zM2073 1032h3v21h-3zM2076 1017h3v30h-3zM2079 1011h3v24h-3zM2082 1002h3v18h-3zM2085 990h3v24h-3zM2088 981h3v24h-3zM2091 978h3v15h-3zM2094 978h3v12h-3zM2097 981h3v15h-3zM2100 987h6v9h-6zM2106 972h3v24h-3zM2109 957h3v33h-3zM2112 948h3v27h-3zM2115 942h3v18h-3zM2118 933h3v18h-3zM2121 924h3v21h-3zM2124 921h3v15h-3zM2127 918h3v9h-3zM2130 915h3v9h-3zM2133 912h3v9h-3zM2136 909h3v9h-3zM2139 909h3v6h-3zM2142 909h3v9h-3zM2145 912h3v12h-3zM2148 915h3v21h-3zM2151 921h3v24h-3zM2154 933h6v15h-6zM2160 930h3v12h-3zM2163 927h3v9h-3zM2166 927h3v6h-3zM2169 927h3v9h-3zM2172 930h9v6h-9zM2181 930h3v9h-3zM2184 933h6v6h-6zM2190 933h3v9h-3zM2193 936h3v6h-3zM2196 936h3v9h-3zM2199 939h3v6h-3zM2202 939h3v9h-3zM2205 942h3v9h-3zM2208 945h3v6h-3zM2211 945h3v9h-3zM2214 948h3v9h-3zM2217 951h3v6h-3zM2220 951h3v9h-3zM2223 954h3v6h-3zM2226 954h3v9h-3zM2229 957h3v6h-3zM2232 957h3v9h-3zM2235 960h3v12h-3zM2238 963h3v12h-3zM2241 969h3v15h-3zM2244 972h3v24h-3zM2247 981h3v21h-3zM2250 993h3v12h-3zM2253 999h3v6h-3zM2256 996h3v9h-3zM2259 993h3v9h-3zM2262 993h12v6h-12zM2274 993h3v9h-3zM2277 996h3v9h-3zM2280 999h18v6h-18zM2298 993h3v12h-3zM2301 990h3v12h-3zM2304 990h6v6h-6zM2310 987h3v9h-3zM2313 987h6v6h-6zM2319 984h3v9h-3zM2322 981h3v9h-3zM2325 975h3v12h-3zM2328 969h3v15h-3zM2331 969h3v9h-3zM2334 966h3v9h-3zM2337 966h3v6h-3zM2340 963h3v9h-3zM2343 963h3v6h-3zM2346 960h3v9h-3zM2349 957h3v9h-3zM2352 951h3v12h-3zM2355 951h3v9h-3z"/>
<path id="blue" fill="#0000ff" transform="translate(0,1) scale(1,0.99955)" d="M111 984h6v12h-6zM117 984h3v15h-3zM120 987h6v12h-6zM126 987h3v9h-3zM129 984h6v9h-6zM135 984h3v12h-3zM138 987h3v18h-3zM141 990h3v30h-3zM144 993h3v27h-3zM147 990h3v18h-3zM150 990h6v39h-6zM156 996h3v24h-3zM159 1002h3v15h-3zM162 1005h3v24h-3zM165 993h3v36h-3zM168 984h3v36h-3zM171 984h3v87h-3zM174 1014h3v57h-3zM177 1020h3v39h-3zM180 1014h6v36h-6zM186 1014h6v42h-6zM192 1023h3v36h-3zM195 1026h3v39h-3zM198 1029h3v54h-3zM201 1026h6v63h-6zM207 1017h6v81h-6zM213 1047h3v57h-3zM216 1041h3v63h-3zM219 1038h3v42h-3zM222 1035h6v54h-6zM228 1026h3v30h-3zM231 1011h6v72h-6zM237 1032h3v57h-3zM240 1011h3v78h-3zM243 1005h6v57h-6zM249 1011h3v18h-3zM252 1014h3v36h-3zM255 1017h3v36h-3zM258 1020h3v45h-3zM261 1041h3v24h-3zM264 1053h3v36h-3zM267 1062h3v105h-3zM270 1086h3v81h-3zM273 1119h3v30h-3zM276 1119h3v12h-3zM279 1107h3v60h-3zM282 1095h3v72h-3zM285 1086h3v36h-3zM288 1086h3v30h-3zM291 1077h3v48h-3zM294 1077h3v75h-3zM297 1092h3v60h-3zM300 1092h3v30h-3zM303 1098h3v18h-3zM306 1101h3v84h-3zM309 1107h3v78h-3zM312 1128h3v42h-3zM315 1152h6v78h-6zM321 1197h6v42h-6zM327 1206h3v51h-3zM330 1215h3v93h-3zM333 1254h3v129h-3zM336 1281h3v102h-3zM339 1335h3v27h-3zM342 1338h3v36h-3zM345 1344h3v105h-3zM348 1359h3v108h-3zM351 1446h3v39h-3zM354 1464h3v39h-3zM357 1482h3v39h-3zM360 1500h3v39h-3zM363 1518h3v39h-3zM366 1536h3v33h-3zM369 1554h3v39h-3zM372 1566h3v48h-3zM375 1590h3v30h-3zM378 1611h3v18h-3zM381 1617h3v30h-3zM384 1626h3v42h-3zM387 1644h3v30h-3zM390 1665h3v15h-3zM393 1671h3v21h-3zM396 1677h3v27h-3zM399 1689h3v27h-3zM402 1701h3v21h-3zM405 1713h3v18h-3zM408 1719h3v18h-3zM411 1728h3v15h-3zM414 1734h3v12h-3zM417 1740h3v12h-3zM420 1743h3v12h-3zM423 1749h3v12h-3zM426 1752h3v15h-3zM429 1758h3v15h-3zM432 1764h3v12h-3zM435 1770h3v9h-3zM438 1773h3v9h-3zM441 1776h3v9h-3zM444 1779h3v9h-3zM447 1782h3v9h-3zM450 1785h3v9h-3zM453 1788h3v9h-3zM456 1791h3v6h-3zM459 1791h3v9h-3zM462 1794h3v6h-3zM465 1794h3v9h-3zM468 1797h12v6h-12zM480 1797h3v9h-3zM483 1800h12v6h-12zM495 1800h3v9h-3zM498 1803h15v6h-15zM513 1800h3v9h-3zM516 1800h9v6h-9zM525 1797h3v9h-3zM528 1797h6v6h-6zM534 1794h3v9h-3zM537 1794h6v6h-6zM543 1791h3v9h-3zM546 1791h9v6h-9zM555 1788h3v9h-3zM558 1788h6v6h-6zM564 1785h3v9h-3zM567 1785h3v6h-3zM570 1782h3v9h-3zM573 1782h3v6h-3zM576 1779h3v9h-3zM579 1776h3v9h-3zM582 1773h3v9h-3zM585 1770h3v9h-3zM588 1767h3v9h-3zM591 1764h3v9h-3zM594 1761h3v9h-3zM597 1758h3v9h-3zM600 1755h3v9h-3zM603 1755h3v6h-3zM606 1752h3v9h-3zM609 1749h3v9h-3zM612 1746h3v9h-3zM615 1743h3v9h-3zM618 1737h3v12h-3zM621 1734h3v12h-3zM624 1731h3v9h-3zM627 1725h3v12h-3zM630 1722h3v12h-3zM633 1719h3v9h-3zM636 1713h3v12h-3zM639 1710h3v12h-3zM642 1707h3v9h-3zM645 1701h3v12h-3zM648 1698h3v12h-3zM651 1695h3v9h-3zM654 1689h3v12h-3zM657 1683h3v15h-3zM660 1677h3v15h-3zM663 1671h3v15h-3zM666 1665h3v15h-3zM669 1662h3v12h-3zM672 1659h3v9h-3zM675 1656h3v9h-3zM678 1653h3v9h-3zM681 1647h3v12h-3zM684 1644h3v12h-3zM687 1641h3v9h-3zM690 1638h3v9h-3zM693 1632h3v12h-3zM696 1626h3v15h-3zM699 1620h3v15h-3zM702 1614h3v15h-3zM705 1605h3v18h-3zM708 1599h3v18h-3zM711 1593h3v15h-3zM714 1584h3v18h-3zM717 1578h3v18h-3zM720 1569h3v18h-3zM723 1563h3v18h-3zM726 1557h3v15h-3zM729 1548h3v18h-3zM732 1542h3v18h-3zM735 1536h3v15h-3zM738 1530h3v15h-3zM741 1527h3v12h-3zM744 1521h3v12h-3zM747 1518h3v12h-3zM750 1512h3v12h-3zM753 1512h3v9h-3zM756 1515h3v6h-3zM759 1515h3v12h-3zM762 1518h3v18h-3zM765 1524h3v24h-3zM768 1533h3v27h-3zM771 1545h3v27h-3zM774 1557h3v30h-3zM777 1569h3v30h-3zM780 1584h3v27h-3zM783 1596h3v24h-3zM786 1608h3v21h-3zM789 1617h3v18h-3zM792 1626h3v15h-3zM795 1632h3v15h-3zM798 1638h3v15h-3zM801 1644h3v9h-3zM804 1647h3v6h-3zM807 1641h3v12h-3zM810 1638h3v12h-3zM813 1638h3v9h-3zM816 1641h3v6h-3zM819 1641h3v9h-3zM822 1644h3v12h-3zM825 1647h3v12h-3zM828 1653h3v9h-3zM831 1656h3v6h-3zM834 1650h3v12h-3zM837 1644h3v15h-3zM840 1632h3v21h-3zM843 1620h3v27h-3zM846 1608h3v27h-3zM849 1590h3v33h-3zM852 1572h3v39h-3zM855 1560h3v33h-3zM858 1551h3v24h-3zM861 1539h3v24h-3zM864 1527h3v27h-3zM867 1518h3v24h-3zM870 1506h3v24h-3zM873 1491h3v30h-3zM876 1479h3v30h-3zM879 1467h3v27h-3zM882 1461h3v21h-3zM885 1455h3v15h-3zM888 1446h3v18h-3zM891 1434h3v24h-3zM894 1428h3v21h-3zM897 1422h3v15h-3zM900 1416h3v15h-3zM903 1413h3v12h-3zM906 1407h3v12h-3zM909 1401h3v15h-3zM912 1398h3v12h-3zM915 1392h3v12h-3zM918 1389h3v12h-3zM921 1383h3v12h-3zM924 1380h3v12h-3zM927 1374h3v12h-3zM930 1371h3v12h-3zM933 1365h3v12h-3zM936 1362h3v12h-3zM939 1356h3v12h-3zM942 1350h3v15h-3zM945 1344h3v15h-3zM948 1338h3v15h-3zM951 1332h3v15h-3zM954 1326h3v15h-3zM957 1320h3v15h-3zM960 1314h3v15h-3zM963 1308h3v15h-3zM966 1302h3v15h-3zM969 1296h3v15h-3zM972 1290h3v15h-3zM975 1284h3v15h-3zM978 1278h3v15h-3zM981 1269h3v18h-3zM984 1263h3v18h-3zM987 1254h3v18h-3zM990 1248h3v18h-3zM993 1242h3v15h-3zM996 1236h3v15h-3zM999 1230h3v15h-3zM1002 1227h3v12h-3zM1005 1224h3v9h-3zM1008 1218h3v12h-3zM1011 1215h3v12h-3zM1014 1212h3v9h-3zM1017 1206h3v12h-3zM1020 1203h3v12h-3zM1023 1197h3v12h-3zM1026 1194h3v12h-3zM1029 1188h3v12h-3zM1032 1185h3v12h-3zM1035 1182h3v9h-3zM1038 1176h3v12h-3zM1041 1173h3v12h-3zM1044 1167h3v12h-3zM1047 1164h3v12h-3zM1050 1161h3v9h-3zM1053 1155h3v12h-3zM1056 1152h3v12h-3zM1059 1146h3v12h-3zM1062 1143h3v12h-3zM1065 1140h3v9h-3zM1068 1134h3v12h-3zM1071 1131h3v12h-3zM1074 1128h3v9h-3zM1077 1125h3v9h-3zM1080 1119h3v12h-3zM1083 1116h3v12h-3zM1086 1113h3v9h-3zM1089 1107h3v12h-3zM1092 1104h3v12h-3zM1095 1101h3v9h-3zM1098 1095h3v12h-3zM1101 1092h3v12h-3zM1104 1089h3v9h-3zM1107 1083h3v12h-3zM1110 1080h3v12h-3zM1113 1077h3v9h-3zM1116 1074h3v9h-3zM1119 1068h3v12h-3zM1122 1065h3v12h-3zM1125 1065h6v6h-6zM1131 1062h3v9h-3zM1134 1062h3v6h-3zM1137 1059h3v9h-3zM1140 1053h3v12h-3zM1143 1050h6v12h-6zM1149 1053h3v12h-3zM1152 1059h3v12h-3zM1155 1062h3v12h-3zM1158 1068h3v6h-3zM1161 1068h3v9h-3zM1164 1062h3v15h-3zM1167 1059h3v12h-3zM1170 1056h3v9h-3zM1173 1056h3v6h-3zM1176 1053h3v9h-3zM1179 1053h6v6h-6zM1185 1050h3v9h-3zM1188 1050h3v6h-3zM1191 1044h3v12h-3zM1194 1041h3v12h-3zM1197 1035h3v12h-3zM1200 1032h3v12h-3zM1203 1026h3v12h-3zM1206 1023h3v12h-3zM1209 1023h33v6h-33zM1242 1023h3v9h-3zM1245 1026h12v6h-12zM1257 1026h3v9h-3zM1260 1029h12v6h-12zM1272 1029h3v9h-3zM1275 1032h12v6h-12zM1287 1032h3v9h-3zM1290 1035h21v6h-21zM1311 1032h3v9h-3zM1314 1032h6v6h-6zM1320 1029h3v9h-3zM1323 1029h3v6h-3zM1326 1026h3v9h-3zM1329 1026h3v6h-3zM1332 1023h3v9h-3zM1335 1020h3v9h-3zM1338 1020h6v6h-6zM1344 1017h3v9h-3zM1347 1017h6v6h-6zM1353 1014h3v9h-3zM1356 1014h3v6h-3zM1359 1011h3v9h-3zM1362 1011h3v6h-3zM1365 1008h3v9h-3zM1368 1005h3v9h-3zM1371 1002h3v9h-3zM1374 999h3v9h-3zM1377 996h3v9h-3zM1380 993h3v12h-3zM1383 993h3v18h-3zM1386 990h3v21h-3zM1389 987h3v12h-3zM1392 987h3v9h-3zM1395 987h3v18h-3zM1398 987h3v21h-3zM1401 981h3v27h-3zM1404 981h3v21h-3zM1407 978h3v15h-3zM1410 978h3v9h-3zM1413 978h3v21h-3zM1416 975h3v24h-3zM1419 972h3v15h-3zM1422 972h3v9h-3zM1425 966h3v18h-3zM1428 966h6v33h-6zM1434 966h3v30h-3zM1437 960h3v15h-3zM1440 960h3v24h-3zM1443 963h3v30h-3zM1446 957h3v36h-3zM1449 957h3v33h-3zM1452 957h6v18h-6zM1458 954h6v18h-6zM1464 960h6v21h-6zM1470 951h3v21h-3zM1473 951h3v27h-3zM1476 954h3v75h-3zM1479 963h3v66h-3zM1482 966h3v21h-3zM1485 954h3v27h-3zM1488 954h3v36h-3zM1491 969h3v42h-3zM1494 969h3v54h-3zM1497 966h3v57h-3zM1500 966h3v48h-3zM1503 972h3v42h-3zM1506 972h3v27h-3zM1509 969h6v33h-6zM1515 978h3v18h-3zM1518 981h3v24h-3zM1521 993h3v48h-3zM1524 1002h3v39h-3zM1527 996h6v66h-6zM1533 1005h3v51h-3zM1536 1005h3v72h-3zM1539 1020h6v78h-6zM1545 1029h3v57h-3zM1548 1029h3v51h-3zM1551 1044h3v90h-3zM1554 1056h3v90h-3zM1557 1125h3v21h-3zM1560 1125h3v63h-3zM1563 1131h3v78h-3zM1566 1161h3v48h-3zM1569 1161h3v78h-3zM1572 1179h6v132h-6zM1578 1236h3v63h-3zM1581 1236h3v45h-3zM1584 1236h3v69h-3zM1587 1269h3v78h-3zM1590 1284h3v63h-3zM1593 1320h3v78h-3zM1596 1344h3v111h-3zM1599 1395h3v69h-3zM1602 1437h3v102h-3zM1605 1461h3v117h-3zM1608 1536h3v66h-3zM1611 1575h3v36h-3zM1614 1590h3v27h-3zM1617 1584h3v54h-3zM1620 1581h3v57h-3zM1623 1581h3v30h-3zM1626 1566h3v45h-3zM1629 1542h3v54h-3zM1632 1521h3v48h-3zM1635 1506h3v39h-3zM1638 1482h3v42h-3zM1641 1461h3v48h-3zM1644 1452h3v33h-3zM1647 1452h3v12h-3zM1650 1452h3v6h-3zM1653 1452h3v12h-3zM1656 1452h3v24h-3zM1659 1461h3v21h-3zM1662 1473h3v36h-3zM1665 1479h3v39h-3zM1668 1491h6v27h-6zM1674 1497h3v51h-3zM1677 1494h3v54h-3zM1680 1452h3v75h-3zM1683 1431h6v78h-6zM1689 1404h3v99h-3zM1692 1356h3v84h-3zM1695 1347h3v60h-3zM1698 1347h3v51h-3zM1701 1356h3v42h-3zM1704 1320h6v81h-6zM1710 1323h3v96h-3zM1713 1329h3v90h-3zM1716 1329h3v72h-3zM1719 1350h3v51h-3zM1722 1368h3v75h-3zM1725 1386h3v99h-3zM1728 1422h3v63h-3zM1731 1422h3v111h-3zM1734 1479h3v66h-3zM1737 1530h3v36h-3zM1740 1530h3v57h-3zM1743 1545h3v42h-3zM1746 1530h3v54h-3zM1749 1527h3v36h-3zM1752 1527h3v24h-3zM1755 1521h3v30h-3zM1758 1521h3v42h-3zM1761 1545h3v36h-3zM1764 1560h3v30h-3zM1767 1572h3v24h-3zM1770 1566h3v30h-3zM1773 1566h3v9h-3zM1776 1554h3v21h-3zM1779 1548h3v27h-3zM1782 1548h3v33h-3zM1785 1563h3v48h-3zM1788 1572h3v48h-3zM1791 1593h3v39h-3zM1794 1611h3v30h-3zM1797 1602h3v39h-3zM1800 1575h3v42h-3zM1803 1560h3v51h-3zM1806 1539h3v39h-3zM1809 1530h3v33h-3zM1812 1524h3v18h-3zM1815 1524h3v15h-3zM1818 1530h3v18h-3zM1821 1536h3v21h-3zM1824 1545h3v18h-3zM1827 1554h3v15h-3zM1830 1560h3v15h-3zM1833 1563h3v12h-3zM1836 1554h3v18h-3zM1839 1542h3v24h-3zM1842 1530h3v27h-3zM1845 1509h3v36h-3zM1848 1482h3v51h-3zM1851 1458h3v54h-3zM1854 1437h3v48h-3zM1857 1428h3v33h-3zM1860 1428h3v12h-3zM1863 1431h3v6h-3zM1866 1431h6v9h-6zM1872 1425h3v15h-3zM1875 1422h3v12h-3zM1878 1419h3v9h-3zM1881 1419h3v6h-3zM1884 1416h3v9h-3zM1887 1416h3v6h-3zM1890 1413h3v9h-3zM1893 1410h3v9h-3zM1896 1410h3v12h-3zM1899 1410h3v24h-3zM1902 1419h3v27h-3zM1905 1431h3v21h-3zM1908 1443h3v12h-3zM1911 1449h3v9h-3zM1914 1452h3v24h-3zM1917 1455h3v60h-3zM1920 1473h3v93h-3zM1923 1512h3v102h-3zM1926 1563h3v93h-3zM1929 1611h3v81h-3zM1932 1653h3v63h-3zM1935 1689h3v42h-3zM1938 1713h6v24h-6zM1944 1701h3v30h-3zM1947 1698h3v18h-3zM1950 1698h3v27h-3zM1953 1704h3v39h-3zM1956 1722h3v39h-3zM1959 1740h3v36h-3zM1962 1758h3v27h-3zM1965 1773h3v18h-3zM1968 1782h3v12h-3zM1971 1788h3v12h-3zM1974 1791h3v12h-3zM1977 1797h3v9h-3zM1980 1800h3v9h-3zM1983 1803h3v9h-3zM1986 1806h3v9h-3zM1989 1809h6v6h-6zM1995 1806h3v9h-3zM1998 1803h3v9h-3zM2001 1797h3v15h-3zM2004 1797h3v9h-3zM2007 1797h3v6h-3zM2010 1797h3v12h-3zM2013 1800h3v12h-3zM2016 1806h6v6h-6zM2022 1797h3v15h-3zM2025 1782h3v27h-3zM2028 1767h3v33h-3zM2031 1758h3v27h-3zM2034 1752h3v18h-3zM2037 1743h3v18h-3zM2040 1725h3v30h-3zM2043 1698h3v48h-3zM2046 1668h3v60h-3zM2049 1632h3v69h-3zM2052 1596h3v75h-3zM2055 1563h3v72h-3zM2058 1539h3v60h-3zM2061 1518h3v48h-3zM2064 1506h3v36h-3zM2067 1500h3v21h-3zM2070 1497h3v12h-3zM2073 1491h3v12h-3zM2076 1479h3v21h-3zM2079 1464h3v30h-3zM2082 1449h3v33h-3zM2085 1437h3v30h-3zM2088 1431h3v21h-3zM2091 1431h3v12h-3zM2094 1434h3v18h-3zM2097 1440h3v27h-3zM2100 1449h6v27h-6zM2106 1428h3v42h-3zM2109 1404h3v48h-3zM2112 1392h3v39h-3zM2115 1386h3v21h-3zM2118 1386h3v15h-3zM2121 1392h3v12h-3zM2124 1395h3v9h-3zM2127 1386h3v18h-3zM2130 1377h3v21h-3zM2133 1368h3v21h-3zM2136 1359h3v21h-3zM2139 1359h3v12h-3zM2142 1356h6v9h-6zM2148 1359h3v6h-3zM2151 1359h3v9h-3zM2154 1362h3v9h-3zM2157 1365h3v9h-3zM2160 1368h3v9h-3zM2163 1371h3v12h-3zM2166 1374h3v18h-3zM2169 1380h3v18h-3zM2172 1389h3v15h-3zM2175 1395h3v15h-3zM2178 1401h3v15h-3zM2181 1407h3v15h-3zM2184 1413h3v18h-3zM2187 1419h3v18h-3zM2190 1428h3v12h-3zM2193 1434h3v12h-3zM2196 1437h3v12h-3zM2199 1443h3v9h-3zM2202 1446h3v12h-3zM2205 1449h3v12h-3zM2208 1455h3v12h-3zM2211 1458h3v15h-3zM2214 1464h3v18h-3zM2217 1470h3v18h-3zM2220 1479h3v15h-3zM2223 1485h3v12h-3zM2226 1491h3v9h-3zM2229 1494h3v12h-3zM2232 1497h3v18h-3zM2235 1503h3v21h-3zM2238 1512h3v18h-3zM2241 1521h3v21h-3zM2244 1527h3v30h-3zM2247 1539h3v27h-3zM2250 1554h3v15h-3zM2253 1563h6v6h-6zM2259 1560h3v9h-3zM2262 1560h3v6h-3zM2265 1560h3v12h-3zM2268 1563h3v12h-3zM2271 1569h3v9h-3zM2274 1572h3v9h-3zM2277 1575h3v12h-3zM2280 1578h3v15h-3zM2283 1584h6v9h-6zM2289 1584h3v6h-3zM2292 1581h3v9h-3zM2295 1578h3v9h-3zM2298 1575h3v9h-3zM2301 1572h3v9h-3zM2304 1572h6v6h-6zM2310 1569h3v9h-3zM2313 1569h3v6h-3zM2316 1563h3v12h-3zM2319 1560h3v12h-3zM2322 1554h3v12h-3zM2325 1548h3v15h-3zM2328 1536h3v21h-3zM2331 1527h3v24h-3zM2334 1527h3v12h-3zM2337 1527h3v6h-3zM2340 1524h3v9h-3zM2343 1521h3v9h-3zM2346 1512h3v18h-3zM2349 1503h3v21h-3zM2352 1497h3v18h-3zM2355 1497h3v9h-3z"/>
<text class="tk" transform="translate(110.5,1950) scale(0.95,1)">4000</text>
<text class="tk" transform="translate(431.5,1950) scale(0.95,1)">3500</text>
<text class="tk" transform="translate(752.5,1950) scale(0.95,1)">3000</text>
<text class="tk" transform="translate(1073.5,1950) scale(0.95,1)">2500</text>
<text class="tk" transform="translate(1394.5,1950) scale(0.95,1)">2000</text>
<text class="tk" transform="translate(1715.5,1950) scale(0.95,1)">1500</text>
<text class="tk" transform="translate(2036.5,1950) scale(0.95,1)">1000</text>
<text class="tk" transform="translate(2357.5,1950) scale(0.95,1)">500</text>
<text class="ti" transform="translate(859.5,2102.5) scale(0.96,1)">Wavenumber / cm</text>
<text x="1561.2" y="2055.2" font-size="52" textLength="40.7" lengthAdjust="spacingAndGlyphs" fill="#000">-1</text>
<text class="lb" x="2216.9" y="510.4" textLength="119.5" lengthAdjust="spacingAndGlyphs" fill="#000">CH</text>
<text class="lb" x="2066" y="876.4" textLength="262.4" lengthAdjust="spacingAndGlyphs" fill="#ff0000">CH-gly</text>
<text class="lb" x="2005.5" y="1326.5" textLength="319.1" lengthAdjust="spacingAndGlyphs" fill="#0000ff">CH-APN</text>
</svg>
</body></html>
